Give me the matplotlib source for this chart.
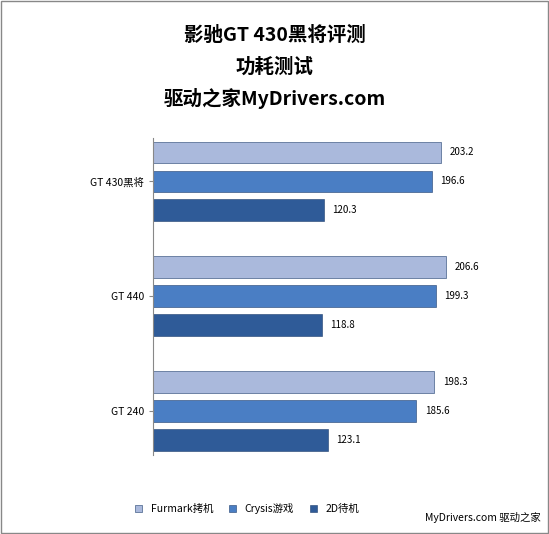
import matplotlib
matplotlib.use("Agg")
import matplotlib.pyplot as plt
import numpy as np
from matplotlib.patches import Rectangle

plt.rcParams['font.family'] = ['Noto Sans CJK SC', 'DejaVu Sans']

cards = ["GT 430黑将", "GT 440", "GT 240"]
series = ["Furmark拷机", "Crysis游戏", "2D待机"]
furmark = [203.2, 206.6, 198.3]
crysis = [196.6, 199.3, 185.6]
idle = [120.3, 118.8, 123.1]
colors = ["#AAB9DC", "#4A7EC4", "#2F5B98"]

fig = plt.figure(figsize=(5.49, 5.34), dpi=100)
fig.patches.append(Rectangle((0.002, 0.002), 0.996, 0.996, transform=fig.transFigure,
                             fill=False, edgecolor="#888888", lw=1))
ax = fig.add_axes([0.279, 0.148, 0.71, 0.594])
data = [furmark, crysis, idle]
h = 0.19
offs = [-0.252, 0, 0.252]
for s, (vals, c, o) in enumerate(zip(data, colors, offs)):
    y = np.arange(len(cards)) + o
    ax.barh(y, vals, height=h, color=c, edgecolor="#1F3F6F", linewidth=0.4, label=series[s])
    for yy, v in zip(y, vals):
        ax.text(v + 6, yy, f"{v:.1f}", va="center", ha="left", fontsize=7)
ax.set_yticks(range(len(cards)))
ax.set_yticklabels(cards, fontsize=7.5)
ax.set_ylim(2.38, -0.38)
ax.set_xlim(0, 275)
ax.set_xticks([])
for sp in ["top", "right", "bottom"]:
    ax.spines[sp].set_visible(False)
ax.spines["left"].set_color("#888888")
ax.tick_params(axis="y", length=3, color="#888888")

fig.text(0.5, 0.933, "影驰GT 430黑将评测", ha="center", va="center", fontsize=14, fontweight="bold")
fig.text(0.5, 0.874, "功耗测试", ha="center", va="center", fontsize=14, fontweight="bold")
fig.text(0.5, 0.816, "驱动之家MyDrivers.com", ha="center", va="center", fontsize=14, fontweight="bold")

fig.legend(loc="center", bbox_to_anchor=(0.45, 0.048), ncol=3,
           fontsize=7.5, frameon=False, handlelength=0.7, handleheight=0.7, columnspacing=1.5)
fig.text(0.985, 0.03, "MyDrivers.com 驱动之家", ha="right", va="center", fontsize=7.5)
fig.savefig("out.png", dpi=100)
